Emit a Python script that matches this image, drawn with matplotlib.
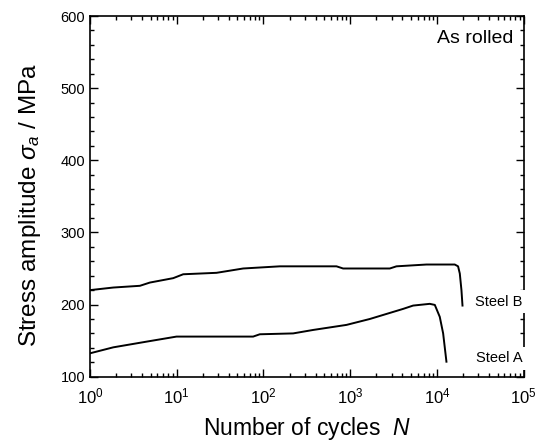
import matplotlib.pyplot as plt
import numpy as np
from matplotlib.ticker import LogLocator, MultipleLocator, LogFormatterMathtext

plt.rcParams['font.family'] = ['Liberation Sans', 'DejaVu Sans']
plt.rcParams['mathtext.fontset'] = 'custom'
plt.rcParams['mathtext.rm'] = 'Liberation Sans'
plt.rcParams['mathtext.it'] = 'Liberation Sans:italic'

# log10(N) and stress amplitude (MPa)
logN_B = [0, 0.269, 0.576, 0.691, 0.960, 1.075, 1.459, 1.613, 1.766, 2.189,
          2.842, 2.918, 3.456, 3.533, 3.879, 4.205, 4.243, 4.263, 4.282, 4.294]
stress_B = [220, 223.6, 226, 230.5, 236.6, 242, 244, 247, 250, 253,
            253, 250, 250, 253, 255.5, 255.5, 253, 243, 220, 198.6]

logN_A = [0, 0.269, 0.653, 0.998, 1.881, 1.958, 2.342, 2.573, 2.957, 3.226,
          3.610, 3.725, 3.917, 3.975, 4.032, 4.071, 4.109]
stress_A = [132.4, 140.7, 148.6, 155.6, 155.6, 158.8, 160, 164.8, 171.8, 180,
            194, 198.6, 201, 199.5, 183, 160, 120.8]

labels = ['Steel B', 'Steel A']
label_y = [204, 125.5]

fig = plt.figure(figsize=(5.45, 4.45), dpi=100)
ax = fig.add_axes([0.165, 0.1535, 0.796, 0.8105])

N_B = 10 ** np.array(logN_B)
N_A = 10 ** np.array(logN_A)
ax.plot(N_B, stress_B, 'k-', lw=1.4)
ax.plot(N_A, stress_A, 'k-', lw=1.4)

ax.set_xscale('log')
ax.set_xlim(1, 1e5)
ax.set_ylim(100, 600)
ax.xaxis.set_major_locator(LogLocator(base=10, numticks=10))
ax.xaxis.set_minor_locator(LogLocator(base=10, subs=np.arange(2, 10), numticks=20))
ax.xaxis.set_major_formatter(LogFormatterMathtext())
ax.yaxis.set_major_locator(MultipleLocator(100))
ax.yaxis.set_minor_locator(MultipleLocator(20))

ax.tick_params(which='both', direction='in', top=True, right=True, width=1)
ax.tick_params(axis='y', labelsize=10.5)
ax.tick_params(axis='x', labelsize=12)
ax.tick_params(which='major', length=6)
ax.tick_params(which='minor', length=3)
ax.tick_params(axis='x', which='major', pad=7)
for s in ax.spines.values():
    s.set_linewidth(1.2)

ax.set_xlabel(r'Number of cycles  $N$', fontsize=16.5, labelpad=6)
ax.set_ylabel(r'Stress amplitude $\sigma_a$ / MPa', fontsize=17.5)
ax.yaxis.set_label_coords(-0.108, 0.476)

ax.text(0.975, 0.96, 'As rolled', transform=ax.transAxes, ha='right', va='top', fontsize=14)

for lab, yv in zip(labels, label_y):
    ax.text(0.997, yv, lab, transform=ax.get_yaxis_transform(), ha='right', va='center',
            fontsize=10.5, clip_on=False, zorder=5,
            bbox=dict(facecolor='white', edgecolor='none', pad=3))

fig.savefig('out.png', dpi=100)
